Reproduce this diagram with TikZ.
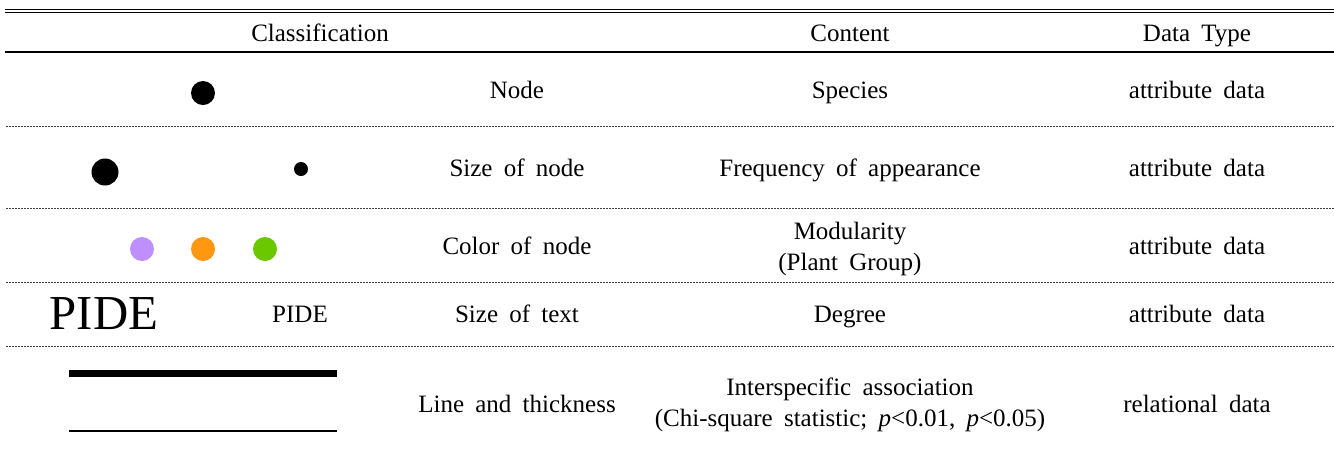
\documentclass[tikz,border=0pt]{standalone}
\usepackage{fontspec}
\setmainfont{Liberation Serif}
\usepackage{tikz}
\definecolor{lilac}{RGB}{191,143,255}
\definecolor{amber}{RGB}{255,152,16}
\definecolor{leaf}{RGB}{107,200,0}
\newcommand{\cellfont}{\fontsize{12.5}{15.5}\selectfont\spaceskip=0.45em\relax}
\tikzstyle{celltext}=[font=\cellfont,inner sep=0pt,align=center]
\tikzstyle{bigtext}=[font=\fontsize{24.4}{27}\selectfont,inner sep=0pt]
\tikzstyle{toprule}=[color=black,line width=0.5pt]
\tikzstyle{midrule}=[color=black,line width=0.7pt]
\tikzstyle{rowsep}=[color=black!75,line width=0.5pt,dash pattern=on 0.9pt off 0.6pt]
\tikzstyle{netnode}=[circle,fill,draw=none,inner sep=0pt]

\begin{document}
\begin{tikzpicture}[x=0.5pt,y=-0.5pt]

  \useasboundingbox (0,0) rectangle (1334,452);

  % RULES
  \draw[toprule] (5,9.5) -- (1334,9.5);
  \draw[toprule] (5,12.5) -- (1334,12.5);
  \draw[midrule] (5,52) -- (1334,52);
  \foreach \y in {126,208,282,346}
    \draw[rowsep] (6,\y) -- (1334,\y);

  % HEADER
  \node[celltext,anchor=base] (hclass) at (320,41) {Classification};
  \node[celltext,anchor=base] (hcont) at (850,41) {Content};
  \node[celltext,anchor=base] (htype) at (1197,41) {Data Type};

  % ROW: NODE
  \node[netnode,minimum size=12pt] (dot) at (203,93) {};
  \node[celltext,anchor=base] (lnode) at (517,98) {Node};
  \node[celltext,anchor=base] (cnode) at (850,98) {Species};
  \node[celltext,anchor=base] (tnode) at (1197,98) {attribute data};

  % ROW: SIZE OF NODE
  \node[netnode,minimum size=13.5pt] (dotbig) at (105,172) {};
  \node[netnode,minimum size=7pt] (dotsmall) at (301,169) {};
  \node[celltext,anchor=base] (lsize) at (517,176) {Size of node};
  \node[celltext,anchor=base] (csize) at (850,176) {Frequency of appearance};
  \node[celltext,anchor=base] (tsize) at (1197,176) {attribute data};

  % ROW: COLOR OF NODE
  \node[netnode,fill=lilac,minimum size=12pt] (dotlilac) at (142,249) {};
  \node[netnode,fill=amber,minimum size=12pt] (dotamber) at (203,249) {};
  \node[netnode,fill=leaf,minimum size=12pt] (dotleaf) at (265,249) {};
  \node[celltext,anchor=base] (lcolor) at (517,254) {Color of node};
  \node[celltext] (ccolor) at (850,249) {Modularity\\(Plant Group)};
  \node[celltext,anchor=base] (tcolor) at (1197,254) {attribute data};

  % ROW: SIZE OF TEXT
  \node[bigtext,anchor=base] (pidebig) at (104,329) {PIDE};
  \node[celltext,anchor=base] (pidesmall) at (300,322) {PIDE};
  \node[celltext,anchor=base] (ltext) at (517,322) {Size of text};
  \node[celltext,anchor=base] (ctext) at (850,322) {Degree};
  \node[celltext,anchor=base] (ttext) at (1197,322) {attribute data};

  % ROW: LINE AND THICKNESS
  \draw[line width=3.5pt] (69,373) -- (337,373);
  \draw[line width=1.3pt] (69,431) -- (337,431);
  \node[celltext,anchor=base] (lline) at (517,412) {Line and thickness};
  \node[celltext] (cline) at (850,405) {Interspecific association\\(Chi-square statistic; \textit{p}<0.01, \textit{p}<0.05)};
  \node[celltext,anchor=base] (tline) at (1197,412) {relational data};

\end{tikzpicture}
\end{document}
